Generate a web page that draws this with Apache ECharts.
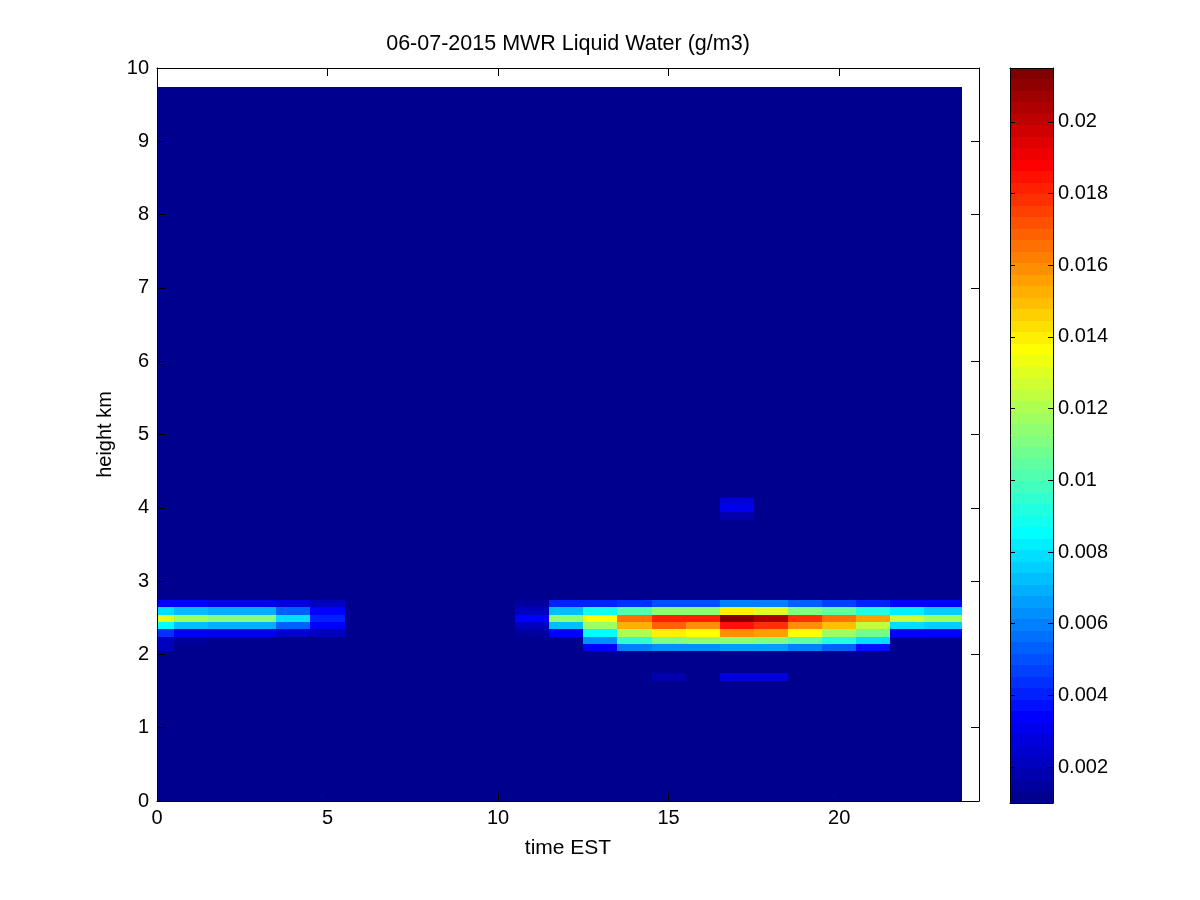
<!DOCTYPE html>
<html>
<head>
<meta charset="utf-8">
<title>MWR Liquid Water</title>
<script src="https://cdn.jsdelivr.net/npm/echarts@6/dist/echarts.min.js"></script>
<style>
  html, body { margin: 0; padding: 0; background: #fff; }
  #chart { width: 1200px; height: 900px; }
</style>
</head>
<body>
<div id="chart"></div>
<script>
// hour bins, time EST (bin edges)
const timeEdges = [0, 0.5, 1.5, 2.5, 3.5, 4.5, 5.5, 6.5, 7.5, 8.5, 9.5, 10.5, 11.5,
  12.5, 13.5, 14.5, 15.5, 16.5, 17.5, 18.5, 19.5, 20.5, 21.5, 22.5, 23.6];

// height grid in km: 0.1 km rows up to 9.74 km
const heightEdges = [0];
for (let i = 0; i <= 97; i++) heightEdges.push(+(0.04 + i * 0.1).toFixed(2));

// colour scale limits (g/m3)
const cMin = 0.001;
const cMax = 0.0215;
const barTicks = [0.002, 0.004, 0.006, 0.008, 0.01, 0.012, 0.014, 0.016, 0.018, 0.02];
const xTicks = [0, 5, 10, 15, 20];

// value of all cells not listed below
const bgValue = 0.001;

// liquid water rows, one value per hour bin, named by row bottom height
const lwc164 = [0.001, 0.001, 0.001, 0.001, 0.001, 0.001, 0.001, 0.001, 0.001, 0.001, 0.001, 0.001,
  0.001, 0.001, 0.001, 0.0018, 0.001, 0.0027, 0.0027, 0.001, 0.001, 0.001, 0.001, 0.001];
const lwc204 = [0.0020, 0.001, 0.001, 0.001, 0.001, 0.001, 0.001, 0.001, 0.001, 0.001, 0.001, 0.001,
  0.001, 0.0035, 0.0059, 0.0063, 0.0063, 0.0066, 0.0066, 0.0059, 0.0054, 0.0037, 0.001, 0.001];
const lwc214 = [0.0020, 0.0015, 0.001, 0.001, 0.001, 0.001, 0.001, 0.001, 0.001, 0.001, 0.001, 0.001,
  0.001, 0.0063, 0.0095, 0.0111, 0.0113, 0.0113, 0.0110, 0.0103, 0.0091, 0.0078, 0.001, 0.001];
const lwc224 = [0.0043, 0.0032, 0.0032, 0.0032, 0.0026, 0.0020, 0.001, 0.001, 0.001, 0.001, 0.001, 0.0014,
  0.0035, 0.0085, 0.0120, 0.0141, 0.0138, 0.0159, 0.0155, 0.0138, 0.0118, 0.0107, 0.0035, 0.0035];
const lwc234 = [0.0085, 0.0072, 0.0070, 0.0070, 0.0052, 0.0033, 0.001, 0.001, 0.001, 0.001, 0.001, 0.0022,
  0.0074, 0.0118, 0.0151, 0.0167, 0.0159, 0.0184, 0.0178, 0.0159, 0.0149, 0.0123, 0.0080, 0.0076];
const lwc244 = [0.0130, 0.0118, 0.0112, 0.0112, 0.0080, 0.0042, 0.001, 0.001, 0.001, 0.001, 0.001, 0.0033,
  0.0115, 0.0138, 0.0164, 0.0182, 0.0182, 0.0215, 0.0205, 0.0178, 0.0164, 0.0156, 0.0127, 0.0117];
const lwc254 = [0.0078, 0.0072, 0.0070, 0.0070, 0.0052, 0.0033, 0.001, 0.001, 0.001, 0.001, 0.001, 0.0022,
  0.0074, 0.0088, 0.0102, 0.0113, 0.0114, 0.0141, 0.0131, 0.0111, 0.0103, 0.0092, 0.0082, 0.0076];
const lwc264 = [0.0035, 0.0033, 0.0032, 0.0032, 0.0028, 0.0021, 0.001, 0.001, 0.001, 0.001, 0.001, 0.0014,
  0.0040, 0.0042, 0.0044, 0.0049, 0.0049, 0.0059, 0.0059, 0.0054, 0.0047, 0.0040, 0.0035, 0.0035];
const lwc384 = [0.001, 0.001, 0.001, 0.001, 0.001, 0.001, 0.001, 0.001, 0.001, 0.001, 0.001, 0.001,
  0.001, 0.001, 0.001, 0.001, 0.001, 0.0018, 0.001, 0.001, 0.001, 0.001, 0.001, 0.001];
const lwc394 = [0.001, 0.001, 0.001, 0.001, 0.001, 0.001, 0.001, 0.001, 0.001, 0.001, 0.001, 0.001,
  0.001, 0.001, 0.001, 0.001, 0.001, 0.0030, 0.001, 0.001, 0.001, 0.001, 0.001, 0.001];
const lwc404 = [0.001, 0.001, 0.001, 0.001, 0.001, 0.001, 0.001, 0.001, 0.001, 0.001, 0.001, 0.001,
  0.001, 0.001, 0.001, 0.001, 0.001, 0.0028, 0.001, 0.001, 0.001, 0.001, 0.001, 0.001];

const rowsByBottom = {
  1.64: lwc164, 2.04: lwc204, 2.14: lwc214, 2.24: lwc224, 2.34: lwc234,
  2.44: lwc244, 2.54: lwc254, 2.64: lwc264, 3.84: lwc384, 3.94: lwc394, 4.04: lwc404
};

// matlab jet, 64 levels
function jetColor(v) {
  let i = Math.floor((v - cMin) / (cMax - cMin) * 64) + 1;
  i = Math.max(1, Math.min(64, i));
  let r, g, b;
  if (i <= 24) r = 0; else if (i <= 40) r = (i - 24) / 16; else if (i <= 56) r = 1; else r = 1 - (i - 56) / 16;
  if (i <= 8) g = 0; else if (i <= 24) g = (i - 8) / 16; else if (i <= 40) g = 1; else if (i <= 56) g = 1 - (i - 40) / 16; else g = 0;
  if (i <= 8) b = (i + 8) / 16; else if (i <= 24) b = 1; else if (i <= 40) b = 1 - (i - 24) / 16; else b = 0;
  return 'rgb(' + Math.round(r * 255) + ',' + Math.round(g * 255) + ',' + Math.round(b * 255) + ')';
}

const cells = [];
for (let j = 0; j < heightEdges.length - 1; j++) {
  const row = rowsByBottom[heightEdges[j]];
  for (let k = 0; k < timeEdges.length - 1; k++) {
    const v = row ? row[k] : bgValue;
    cells.push([timeEdges[k], timeEdges[k + 1], heightEdges[j], heightEdges[j + 1], v]);
  }
}

const barCells = [];
for (let i = 0; i < 64; i++) {
  const lo = cMin + i * (cMax - cMin) / 64;
  const hi = cMin + (i + 1) * (cMax - cMin) / 64;
  barCells.push([0, 1, lo, hi, (lo + hi) / 2]);
}

// cell edges snapped to whole pixels so neighbouring cells leave no seams
function renderCell(params, api) {
  const p0 = api.coord([api.value(0), api.value(3)]);
  const p1 = api.coord([api.value(1), api.value(2)]);
  const x0 = Math.round(p0[0]), y0 = Math.round(p0[1]);
  const x1 = Math.round(p1[0]), y1 = Math.round(p1[1]);
  return {
    type: 'rect',
    shape: { x: x0, y: y0, width: x1 - x0, height: y1 - y0 },
    style: { fill: jetColor(api.value(4)) }
  };
}

const font = { fontFamily: 'Liberation Sans, Arial, sans-serif', color: '#000' };
const blackLine = { show: true, onZero: false, lineStyle: { color: '#000', width: 1 } };

const chart = echarts.init(document.getElementById('chart'));
const option = {
  animation: false,
  backgroundColor: '#fff',
  textStyle: font,
  grid: [
    { left: 157, top: 68, width: 822, height: 733 },
    { left: 1010, top: 68, width: 43, height: 735 }
  ],
  xAxis: [
    {
      gridIndex: 0, type: 'value', min: 0, max: 24.1, position: 'bottom', z: 5,
      axisLine: blackLine,
      axisTick: { inside: true, length: 8, customValues: xTicks, lineStyle: { color: '#000' } },
      axisLabel: { customValues: xTicks, fontSize: 20, margin: 7, ...font },
      splitLine: { show: false },
      name: 'time EST', nameLocation: 'middle', nameGap: 37,
      nameTextStyle: { fontSize: 21, ...font }
    },
    {
      gridIndex: 0, type: 'value', min: 0, max: 24.1, position: 'top', z: 5,
      axisLine: blackLine,
      axisTick: { inside: true, length: 8, customValues: xTicks, lineStyle: { color: '#000' } },
      axisLabel: { show: false },
      splitLine: { show: false },
      name: '06-07-2015 MWR Liquid Water (g/m3)', nameLocation: 'middle', nameGap: 13,
      nameTextStyle: { fontSize: 21.5, ...font }
    },
    {
      gridIndex: 1, type: 'value', min: 0, max: 1, position: 'bottom', z: 5,
      axisLine: blackLine, axisTick: { show: false }, axisLabel: { show: false }, splitLine: { show: false }
    },
    {
      gridIndex: 1, type: 'value', min: 0, max: 1, position: 'top', z: 5,
      axisLine: blackLine, axisTick: { show: false }, axisLabel: { show: false }, splitLine: { show: false }
    }
  ],
  yAxis: [
    {
      gridIndex: 0, type: 'value', min: 0, max: 10, interval: 1, position: 'left', z: 5,
      axisLine: blackLine,
      axisTick: { inside: true, length: 8, lineStyle: { color: '#000' } },
      axisLabel: { fontSize: 20, margin: 8, ...font },
      splitLine: { show: false },
      name: 'height km', nameLocation: 'middle', nameGap: 38,
      nameTextStyle: { fontSize: 20, ...font }
    },
    {
      gridIndex: 0, type: 'value', min: 0, max: 10, interval: 1, position: 'right', z: 5,
      axisLine: blackLine,
      axisTick: { inside: true, length: 8, lineStyle: { color: '#000' } },
      axisLabel: { show: false },
      splitLine: { show: false }
    },
    {
      gridIndex: 1, type: 'value', min: cMin, max: cMax, position: 'left', z: 5,
      axisLine: blackLine,
      axisTick: { inside: true, length: 5, customValues: barTicks, lineStyle: { color: '#000' } },
      axisLabel: { show: false },
      splitLine: { show: false }
    },
    {
      gridIndex: 1, type: 'value', min: cMin, max: cMax, position: 'right', z: 5,
      axisLine: blackLine,
      axisTick: { inside: true, length: 5, customValues: barTicks, lineStyle: { color: '#000' } },
      axisLabel: {
        customValues: barTicks, fontSize: 20, margin: 5, ...font,
        formatter: v => String(+v.toFixed(3))
      },
      splitLine: { show: false }
    }
  ],
  series: [
    {
      type: 'custom', name: 'Liquid Water', xAxisIndex: 0, yAxisIndex: 0, z: 1,
      renderItem: renderCell, clip: true,
      encode: { x: [0, 1], y: [2, 3] },
      data: cells
    },
    {
      type: 'custom', name: 'colorbar', xAxisIndex: 2, yAxisIndex: 2, z: 1,
      renderItem: renderCell, clip: true,
      encode: { x: [0, 1], y: [2, 3] },
      data: barCells
    }
  ]
};
chart.setOption(option);
</script>
</body>
</html>
